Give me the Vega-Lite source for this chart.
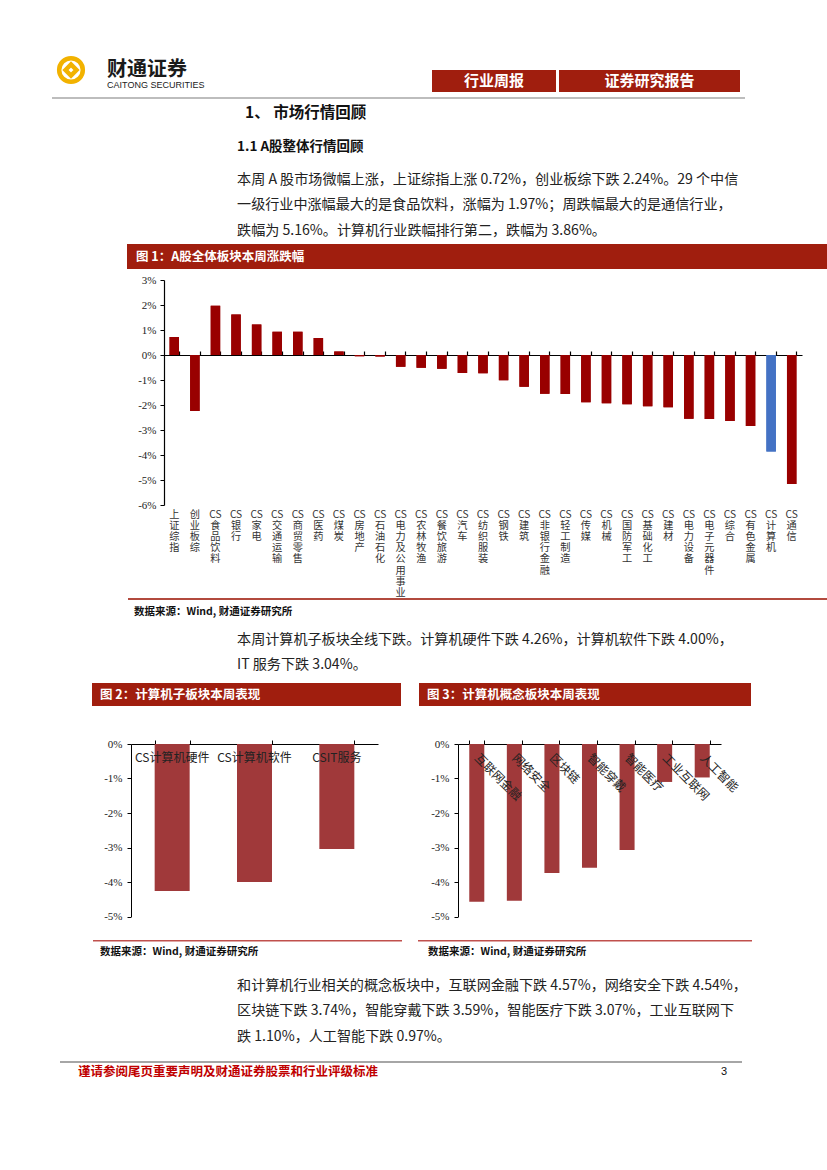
{
  "$schema": "https://vega.github.io/schema/vega-lite/v6.json",
  "padding": 0,
  "background": "white",
  "spacing": 0,
  "config": {
    "view": {"stroke": null},
    "concat": {"spacing": 0},
    "text": {"font": "Noto Sans CJK SC", "color": "#222222"},
    "axis": {"labelFont": "Liberation Serif", "labelColor": "#222222", "domainColor": "#000000", "tickColor": "#000000", "grid": false, "title": null, "labelOverlap": false}
  },
  "vconcat": [
    {
      "hconcat": [
        {"width": 46, "height": 97, "data": {"values": []}, "mark": "rect", "encoding": {}},
        {"vconcat": [
          {"width": 50, "height": 45, "data": {"values": []}, "mark": "rect", "encoding": {}},
          {"width": 50, "height": 50,
           "data": {"values": [{"part": "ring"}, {"part": "diamond"}]},
           "mark": {"type": "point", "filled": false, "strokeWidth": 4.5, "color": "#F2B200", "opacity": 1},
           "encoding": {
             "shape": {"field": "part", "type": "nominal", "scale": {"domain": ["ring", "diamond"], "range": ["circle", "diamond"]}, "legend": null},
             "size": {"field": "part", "type": "nominal", "scale": {"domain": ["ring", "diamond"], "range": [560, 120]}, "legend": null}
           }}
        ], "spacing": 0, "bounds": "flush"},
        {"width": 11, "height": 1, "data": {"values": []}, "mark": "rect", "encoding": {}},
        {"vconcat": [
          {"width": 110, "height": 60, "data": {"values": []}, "mark": "rect", "encoding": {}},
          {"width": 0.1, "height": 20, "data": {"values": [{"t": "财通证券"}]},
           "mark": {"type": "text", "align": "left", "baseline": "middle", "fontSize": 20, "fontWeight": "bold", "letterSpacing": 4, "color": "#1a1a1a"},
           "encoding": {"text": {"field": "t"}}},
          {"width": 0.1, "height": 10, "data": {"values": [{"t": "CAITONG SECURITIES"}]},
           "mark": {"type": "text", "align": "left", "baseline": "middle", "font": "Liberation Sans", "fontSize": 9, "color": "#1a1a1a"},
           "encoding": {"text": {"field": "t"}}}
        ], "spacing": 0, "bounds": "flush"},
        {"width": 215, "height": 1, "data": {"values": []}, "mark": "rect", "encoding": {}},
        {"vconcat": [
          {"width": 1, "height": 70, "data": {"values": []}, "mark": "rect", "encoding": {}},
          {"width": 124, "height": 22, "view": {"fill": "#A01E0E", "stroke": null},
           "data": {"values": [{"t": "行业周报"}]},
           "mark": {"type": "text", "align": "center", "baseline": "middle", "fontSize": 15, "fontWeight": "bold", "color": "#ffffff"},
           "encoding": {"text": {"field": "t"}}}
        ], "spacing": 0, "bounds": "flush"},
        {"width": 3, "height": 1, "data": {"values": []}, "mark": "rect", "encoding": {}},
        {"vconcat": [
          {"width": 1, "height": 70, "data": {"values": []}, "mark": "rect", "encoding": {}},
          {"width": 181, "height": 22, "view": {"fill": "#A01E0E", "stroke": null},
           "data": {"values": [{"t": "证券研究报告"}]},
           "mark": {"type": "text", "align": "center", "baseline": "middle", "fontSize": 15, "fontWeight": "bold", "color": "#ffffff"},
           "encoding": {"text": {"field": "t"}}}
        ], "spacing": 0, "bounds": "flush"}
      ],
      "spacing": 0
    },
    {
      "hconcat": [
        {"width": 52, "height": 2, "data": {"values": []}, "mark": "rect", "encoding": {}},
        {"width": 693, "height": 2, "view": {"fill": "#BDBDBD", "stroke": null}, "data": {"values": []}, "mark": "rect", "encoding": {}}
      ],
      "spacing": 0, "bounds": "flush"
    },
    {
      "hconcat": [
        {"width": 245, "height": 28, "data": {"values": []}, "mark": "rect", "encoding": {}},
        {"width": 0.1, "height": 28, "data": {"values": [{"t": "1、 市场行情回顾"}]},
         "mark": {"type": "text", "align": "left", "baseline": "middle", "fontSize": 15.5, "fontWeight": "bold", "color": "#111111"},
         "encoding": {"text": {"field": "t"}}}
      ],
      "spacing": 0, "bounds": "flush"
    },
    {
      "hconcat": [
        {"width": 237, "height": 40, "data": {"values": []}, "mark": "rect", "encoding": {}},
        {"width": 0.1, "height": 40, "data": {"values": [{"t": "1.1  A股整体行情回顾"}]},
         "mark": {"type": "text", "align": "left", "baseline": "middle", "fontSize": 13.5, "fontWeight": "bold", "color": "#111111"},
         "encoding": {"text": {"field": "t"}}}
      ],
      "spacing": 0, "bounds": "flush"
    },
    {
      "hconcat": [
        {"width": 237, "height": 76.5, "data": {"values": []}, "mark": "rect", "encoding": {}},
        {"width": 0.1, "height": 76.5,
         "data": {"values": [
           {"line": 1, "t": "本周 A 股市场微幅上涨，上证综指上涨 0.72%，创业板综下跌 2.24%。29 个中信"},
           {"line": 2, "t": "一级行业中涨幅最大的是食品饮料，涨幅为 1.97%；周跌幅最大的是通信行业，"},
           {"line": 3, "t": "跌幅为 5.16%。计算机行业跌幅排行第二，跌幅为 3.86%。"}
         ]},
         "mark": {"type": "text", "align": "left", "baseline": "middle", "fontSize": 14.1, "color": "#222222"},
         "encoding": {
           "text": {"field": "t"},
           "y": {"field": "line", "type": "ordinal", "axis": null, "scale": {"type": "point", "padding": 0.5}}
         }}
      ],
      "spacing": 0, "bounds": "flush"
    },
    {
      "hconcat": [
        {"width": 127, "height": 25, "data": {"values": []}, "mark": "rect", "encoding": {}},
        {"width": 700, "height": 25, "view": {"fill": "#A01E0E", "stroke": null},
         "data": {"values": [{"t": "图 1：A股全体板块本周涨跌幅"}]},
         "mark": {"type": "text", "align": "left", "baseline": "middle", "dx": 9, "fontSize": 12.5, "fontWeight": "bold", "color": "#ffffff"},
         "encoding": {
           "text": {"field": "t"},
           "x": {"field": "t", "type": "nominal", "axis": null, "scale": {"type": "point", "padding": 0, "align": 0}}
         }}
      ],
      "spacing": 0, "bounds": "flush"
    },
    {"width": 1, "height": 5, "data": {"values": []}, "mark": "rect", "encoding": {}},
    {
      "hconcat": [
        {"width": 164, "height": 225, "data": {"values": []}, "mark": "rect", "encoding": {}},
        {
          "width": 638, "height": 225,
          "data": {"values": [
            {"name": "上证综指", "value": 0.72},
            {"name": "创业板综", "value": -2.24},
            {"name": "CS食品饮料", "value": 1.97},
            {"name": "CS银行", "value": 1.62},
            {"name": "CS家电", "value": 1.22},
            {"name": "CS交通运输", "value": 0.93},
            {"name": "CS商贸零售", "value": 0.93},
            {"name": "CS医药", "value": 0.68},
            {"name": "CS煤炭", "value": 0.14},
            {"name": "CS房地产", "value": -0.05},
            {"name": "CS石油石化", "value": -0.06},
            {"name": "CS电力及公用事业", "value": -0.47},
            {"name": "CS农林牧渔", "value": -0.51},
            {"name": "CS餐饮旅游", "value": -0.55},
            {"name": "CS汽车", "value": -0.72},
            {"name": "CS纺织服装", "value": -0.73},
            {"name": "CS钢铁", "value": -1.01},
            {"name": "CS建筑", "value": -1.27},
            {"name": "CS非银行金融", "value": -1.55},
            {"name": "CS轻工制造", "value": -1.56},
            {"name": "CS传媒", "value": -1.89},
            {"name": "CS机械", "value": -1.93},
            {"name": "CS国防军工", "value": -1.97},
            {"name": "CS基础化工", "value": -2.05},
            {"name": "CS建材", "value": -2.09},
            {"name": "CS电力设备", "value": -2.55},
            {"name": "CS电子元器件", "value": -2.56},
            {"name": "CS综合", "value": -2.64},
            {"name": "CS有色金属", "value": -2.84},
            {"name": "CS计算机", "value": -3.86},
            {"name": "CS通信", "value": -5.16}
          ]},
          "layer": [
            {
              "mark": {"type": "bar"},
              "encoding": {
                "x": {"field": "name", "type": "nominal", "sort": null,
                      "scale": {"paddingInner": 0.54, "paddingOuter": 0.27},
                      "axis": {"orient": "top", "offset": -75, "labels": false, "domain": true, "domainWidth": 1.2, "ticks": true, "tickBand": "extent", "tickSize": 4, "tickWidth": 1.2}},
                "y": {"field": "value", "type": "quantitative",
                      "scale": {"domain": [-6, 3], "nice": false},
                      "axis": {"values": [-6, -5, -4, -3, -2, -1, 0, 1, 2, 3], "labelExpr": "datum.value + '%'", "labelFontSize": 11, "labelPadding": 4, "tickSize": 4, "domainWidth": 1.2, "labelOverlap": false}},
                "color": {"condition": {"test": "datum.name === 'CS计算机'", "value": "#4472C4"}, "value": "#990000"}
              }
            },
            {
              "mark": {"type": "bar"},
              "encoding": {
                "x": {"field": "name", "type": "nominal", "sort": null,
                      "axis": {"orient": "bottom", "domain": false, "ticks": false, "tickSize": 0, "labelAngle": 0, "labelPadding": 4, "labelBaseline": "top",
                               "labelFont": "Noto Sans CJK SC", "labelFontSize": 10.2, "labelLineHeight": 11.2, "labelColor": "#333333",
                               "labelExpr": "split(replace(datum.label, regexp('([^C])(?=.)', 'g'), '$1|'), '|')"}},
                "y": {"field": "value", "type": "quantitative", "axis": null},
                "color": {"condition": {"test": "datum.name === 'CS计算机'", "value": "#4472C4"}, "value": "#990000"}
              }
            }
          ],
          "resolve": {"axis": {"x": "independent", "y": "independent"}}
        }
      ],
      "spacing": 0, "bounds": "flush"
    },
    {
      "hconcat": [
        {"width": 128, "height": 2, "data": {"values": []}, "mark": "rect", "encoding": {}},
        {"width": 699, "height": 2, "view": {"fill": "#B24A3E", "stroke": null}, "data": {"values": []}, "mark": "rect", "encoding": {}}
      ],
      "spacing": 0, "bounds": "flush"
    },
    {
      "hconcat": [
        {"width": 134, "height": 23, "data": {"values": []}, "mark": "rect", "encoding": {}},
        {"width": 0.1, "height": 23, "data": {"values": [{"t": "数据来源：Wind, 财通证券研究所"}]},
         "mark": {"type": "text", "align": "left", "baseline": "middle", "fontSize": 10.5, "fontWeight": "bold", "color": "#111111"},
         "encoding": {"text": {"field": "t"}}}
      ],
      "spacing": 0, "bounds": "flush"
    },
    {"width": 1, "height": 4, "data": {"values": []}, "mark": "rect", "encoding": {}},
    {
      "hconcat": [
        {"width": 237, "height": 51, "data": {"values": []}, "mark": "rect", "encoding": {}},
        {"width": 0.1, "height": 51,
         "data": {"values": [
           {"line": 1, "t": "本周计算机子板块全线下跌。计算机硬件下跌 4.26%，计算机软件下跌 4.00%，"},
           {"line": 2, "t": "IT 服务下跌 3.04%。"}
         ]},
         "mark": {"type": "text", "align": "left", "baseline": "middle", "fontSize": 14.1, "color": "#222222"},
         "encoding": {
           "text": {"field": "t"},
           "y": {"field": "line", "type": "ordinal", "axis": null, "scale": {"type": "point", "padding": 0.5}}
         }}
      ],
      "spacing": 0, "bounds": "flush"
    },
    {"width": 1, "height": 5, "data": {"values": []}, "mark": "rect", "encoding": {}},
    {
      "hconcat": [
        {"width": 92, "height": 23, "data": {"values": []}, "mark": "rect", "encoding": {}},
        {"width": 309, "height": 23, "view": {"fill": "#A01E0E", "stroke": null},
         "data": {"values": [{"t": "图 2：计算机子板块本周表现"}]},
         "mark": {"type": "text", "align": "left", "baseline": "middle", "dx": 8, "fontSize": 12.5, "fontWeight": "bold", "color": "#ffffff"},
         "encoding": {
           "text": {"field": "t"},
           "x": {"field": "t", "type": "nominal", "axis": null, "scale": {"type": "point", "padding": 0, "align": 0}}
         }},
        {"width": 18, "height": 23, "data": {"values": []}, "mark": "rect", "encoding": {}},
        {"width": 332, "height": 23, "view": {"fill": "#A01E0E", "stroke": null},
         "data": {"values": [{"t": "图 3：计算机概念板块本周表现"}]},
         "mark": {"type": "text", "align": "left", "baseline": "middle", "dx": 8, "fontSize": 12.5, "fontWeight": "bold", "color": "#ffffff"},
         "encoding": {
           "text": {"field": "t"},
           "x": {"field": "t", "type": "nominal", "axis": null, "scale": {"type": "point", "padding": 0, "align": 0}}
         }}
      ],
      "spacing": 0, "bounds": "flush"
    },
    {"width": 1, "height": 32, "data": {"values": []}, "mark": "rect", "encoding": {}},
    {
      "hconcat": [
        {"width": 131, "height": 172.5, "data": {"values": []}, "mark": "rect", "encoding": {}},
        {
          "width": 247, "height": 172.5,
          "data": {"values": [
            {"name": "CS计算机硬件", "value": -4.26},
            {"name": "CS计算机软件", "value": -4.00},
            {"name": "CSIT服务", "value": -3.04}
          ]},
          "layer": [
            {
              "mark": {"type": "bar", "color": "#A0393A"},
              "encoding": {
                "x": {"field": "name", "type": "nominal", "sort": null,
                      "scale": {"paddingInner": 0.575, "paddingOuter": 0.2875},
                      "axis": {"orient": "top", "labels": false, "domain": true, "ticks": true, "tickBand": "extent", "tickSize": 4}},
                "y": {"field": "value", "type": "quantitative",
                      "scale": {"domain": [-5, 0], "nice": false},
                      "axis": {"values": [-5, -4, -3, -2, -1, 0], "labelExpr": "datum.value + '%'", "labelFontSize": 11, "labelPadding": 5, "tickSize": 4, "labelOverlap": false}}
              }
            },
            {
              "mark": {"type": "text", "baseline": "top", "dy": 9, "fontSize": 12, "color": "#222222"},
              "encoding": {
                "x": {"field": "name", "type": "nominal", "sort": null, "axis": null},
                "y": {"datum": 0, "type": "quantitative", "axis": null},
                "text": {"field": "name"}
              }
            }
          ],
          "resolve": {"axis": {"x": "independent", "y": "independent"}}
        },
        {"width": 80, "height": 172.5, "data": {"values": []}, "mark": "rect", "encoding": {}},
        {
          "width": 263, "height": 172.5,
          "data": {"values": [
            {"name": "互联网金融", "value": -4.57},
            {"name": "网络安全", "value": -4.54},
            {"name": "区块链", "value": -3.74},
            {"name": "智能穿戴", "value": -3.59},
            {"name": "智能医疗", "value": -3.07},
            {"name": "工业互联网", "value": -1.10},
            {"name": "人工智能", "value": -0.97}
          ]},
          "layer": [
            {
              "mark": {"type": "bar", "color": "#A0393A"},
              "encoding": {
                "x": {"field": "name", "type": "nominal", "sort": null,
                      "scale": {"paddingInner": 0.6, "paddingOuter": 0.3},
                      "axis": {"orient": "top", "labels": false, "domain": true, "ticks": true, "tickBand": "extent", "tickSize": 4}},
                "y": {"field": "value", "type": "quantitative",
                      "scale": {"domain": [-5, 0], "nice": false},
                      "axis": {"values": [-5, -4, -3, -2, -1, 0], "labelExpr": "datum.value + '%'", "labelFontSize": 11, "labelPadding": 5, "tickSize": 4, "labelOverlap": false}}
              }
            },
            {
              "mark": {"type": "text", "angle": 45, "align": "left", "baseline": "middle", "dx": 8.5, "dy": 8.5, "fontSize": 12, "color": "#222222"},
              "encoding": {
                "x": {"field": "name", "type": "nominal", "sort": null, "axis": null},
                "y": {"datum": 0, "type": "quantitative", "axis": null},
                "text": {"field": "name"}
              }
            }
          ],
          "resolve": {"axis": {"x": "independent", "y": "independent"}}
        }
      ],
      "spacing": 0, "bounds": "flush"
    },
    {"width": 1, "height": 18, "data": {"values": []}, "mark": "rect", "encoding": {}},
    {
      "hconcat": [
        {"width": 93, "height": 1.5, "data": {"values": []}, "mark": "rect", "encoding": {}},
        {"width": 309, "height": 1.5, "view": {"fill": "#C0504D", "stroke": null}, "data": {"values": []}, "mark": "rect", "encoding": {}},
        {"width": 16, "height": 1.5, "data": {"values": []}, "mark": "rect", "encoding": {}},
        {"width": 334, "height": 1.5, "view": {"fill": "#C0504D", "stroke": null}, "data": {"values": []}, "mark": "rect", "encoding": {}}
      ],
      "spacing": 0, "bounds": "flush"
    },
    {
      "hconcat": [
        {"width": 100, "height": 20, "data": {"values": []}, "mark": "rect", "encoding": {}},
        {"width": 0.1, "height": 20, "data": {"values": [{"t": "数据来源：Wind, 财通证券研究所"}]},
         "mark": {"type": "text", "align": "left", "baseline": "middle", "fontSize": 10.5, "fontWeight": "bold", "color": "#111111"},
         "encoding": {"text": {"field": "t"}}},
        {"width": 327, "height": 20, "data": {"values": []}, "mark": "rect", "encoding": {}},
        {"width": 0.1, "height": 20, "data": {"values": [{"t": "数据来源：Wind, 财通证券研究所"}]},
         "mark": {"type": "text", "align": "left", "baseline": "middle", "fontSize": 10.5, "fontWeight": "bold", "color": "#111111"},
         "encoding": {"text": {"field": "t"}}}
      ],
      "spacing": 0, "bounds": "flush"
    },
    {"width": 1, "height": 10.75, "data": {"values": []}, "mark": "rect", "encoding": {}},
    {
      "hconcat": [
        {"width": 237, "height": 76.5, "data": {"values": []}, "mark": "rect", "encoding": {}},
        {"width": 0.1, "height": 76.5,
         "data": {"values": [
           {"line": 1, "t": "和计算机行业相关的概念板块中，互联网金融下跌 4.57%，网络安全下跌 4.54%，"},
           {"line": 2, "t": "区块链下跌 3.74%，智能穿戴下跌 3.59%，智能医疗下跌 3.07%，工业互联网下"},
           {"line": 3, "t": "跌 1.10%，人工智能下跌 0.97%。"}
         ]},
         "mark": {"type": "text", "align": "left", "baseline": "middle", "fontSize": 14.1, "color": "#222222"},
         "encoding": {
           "text": {"field": "t"},
           "y": {"field": "line", "type": "ordinal", "axis": null, "scale": {"type": "point", "padding": 0.5}}
         }}
      ],
      "spacing": 0, "bounds": "flush"
    },
    {"width": 1, "height": 10.75, "data": {"values": []}, "mark": "rect", "encoding": {}},
    {
      "hconcat": [
        {"width": 60, "height": 2, "data": {"values": []}, "mark": "rect", "encoding": {}},
        {"width": 682, "height": 2, "view": {"fill": "#A6A6A6", "stroke": null}, "data": {"values": []}, "mark": "rect", "encoding": {}}
      ],
      "spacing": 0, "bounds": "flush"
    },
    {
      "hconcat": [
        {"width": 78, "height": 18, "data": {"values": []}, "mark": "rect", "encoding": {}},
        {"width": 0.1, "height": 18, "data": {"values": [{"t": "谨请参阅尾页重要声明及财通证券股票和行业评级标准"}]},
         "mark": {"type": "text", "align": "left", "baseline": "middle", "fontSize": 12.5, "fontWeight": "bold", "color": "#C00000"},
         "encoding": {"text": {"field": "t"}}},
        {"width": 642, "height": 18, "data": {"values": []}, "mark": "rect", "encoding": {}},
        {"width": 0.1, "height": 18, "data": {"values": [{"t": "3"}]},
         "mark": {"type": "text", "align": "left", "baseline": "middle", "font": "Liberation Sans", "fontSize": 11, "color": "#111111"},
         "encoding": {"text": {"field": "t"}}}
      ],
      "spacing": 0, "bounds": "flush"
    }
  ]
}
